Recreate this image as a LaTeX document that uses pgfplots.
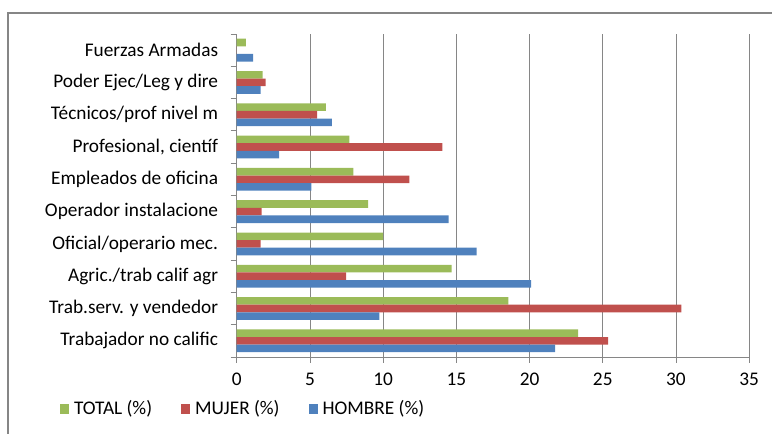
\documentclass[border=0pt]{standalone}
\usepackage{fontspec}
\setmainfont{Carlito}
\usepackage{pgfplots}
\pgfplotsset{compat=1.18}
\definecolor{cT}{RGB}{155,187,89}
\definecolor{cM}{RGB}{192,80,77}
\definecolor{cH}{RGB}{79,129,189}
\definecolor{gridc}{RGB}{134,134,134}
\begin{document}
\fontsize{19.3pt}{23pt}\selectfont
\begin{tikzpicture}
\begin{axis}[
  name=ax, at={(0pt,0pt)}, anchor=south west,
  scale only axis, width=512.5pt, height=323pt,
  xbar, bar width=7.6pt,
  xmin=0, xmax=35, xtick={0,5,...,35},
  ymin=-0.5, ymax=9.5,
  ytick={-0.5,0.5,...,9.5},
  y tick label as interval,
  yticklabels={Trabajador no calific, Trab.serv. y vendedor, Agric./trab calif agr, Oficial/operario mec., Operador instalacione, Empleados de oficina, {Profesional, científ}, Técnicos/prof nivel m, Poder Ejec/Leg y dire, Fuerzas Armadas},
  axis x line*=bottom, axis y line*=left,
  axis line style={gridc, -, line width=0.8pt},
  tick align=outside, major tick length=6pt,
  tick style={gridc, line width=0.8pt},
  xmajorgrids, grid style={gridc, line width=0.8pt},
  /pgf/number format/assume math mode=true,
  tick label style={font=\fontsize{19.3pt}{23pt}\selectfont},
  yticklabel style={xshift=-6pt},
  xticklabel style={yshift=-3pt},
  legend style={at={(-0.351,-0.161)}, anchor=west, draw=none, fill=none,
    legend columns=3,
    /tikz/every odd column/.append style={column sep=3pt},
    /tikz/every even column/.append style={column sep=27pt},
    font=\fontsize{19.3pt}{23pt}\selectfont},
  legend image code/.code={\fill[#1] (0pt,-4.7pt) rectangle (9pt,4.7pt);},
]
\addplot[fill=cT, draw=none, bar shift=7.6pt] coordinates {(23.31,0) (18.56,1) (14.68,2) (10.0,3) (8.97,4) (7.97,5) (7.7,6) (6.09,7) (1.77,8) (0.63,9)};
\addplot[fill=cM, draw=none, bar shift=0pt] coordinates {(25.36,0) (30.36,1) (7.47,2) (1.64,3) (1.7,4) (11.8,5) (14.04,6) (5.5,7) (1.98,8) (0,9)};
\addplot[fill=cH, draw=none, bar shift=-7.6pt] coordinates {(21.75,0) (9.75,1) (20.1,2) (16.38,3) (14.47,4) (5.1,5) (2.9,6) (6.5,7) (1.63,8) (1.13,9)};
\legend{TOTAL (\%), MUJER (\%), HOMBRE (\%)}
\end{axis}
\draw[gridc, line width=1.3pt] (-228.7pt,-77pt) -- (-228.7pt,344pt) -- (535.3pt,344pt);
\pgfresetboundingbox
\path[use as bounding box] (-236.7pt,-77pt) rectangle (535.3pt,357pt);
\end{tikzpicture}
\end{document}
